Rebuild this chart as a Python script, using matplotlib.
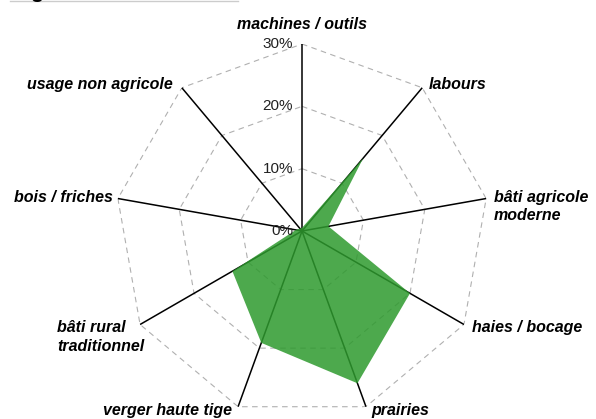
import matplotlib
matplotlib.use('Agg')
import matplotlib.pyplot as plt
import numpy as np

# categories, clockwise from the top
labels = ['machines / outils', 'labours', 'bâti agricole\nmoderne', 'haies / bocage',
          'prairies', 'verger haute tige', 'bâti rural\ntraditionnel', 'bois / friches',
          'usage non agricole']
values = [0.5, 15.3, 4.3, 20.0, 26.0, 19.1, 12.9, 1.0, 0.5]   # percent
rings = [10, 20, 30]
ring_labels = ['0%', '10%', '20%', '30%']

n = len(labels)
theta = np.arange(n) * 2 * np.pi / n
theta_closed = np.append(theta, theta[0])

plt.rcParams['font.family'] = ['Liberation Sans', 'DejaVu Sans']

fig = plt.figure(figsize=(5.96, 4.19), dpi=100)
ax = fig.add_axes([0.193, 0.0024, 0.6275, 0.8926], projection='polar')
ax.set_theta_zero_location('N')
ax.set_theta_direction(-1)
ax.set_ylim(0, 30)
ax.axis('off')

# dashed polygon rings
for r in rings:
    ax.plot(theta_closed, [r] * (n + 1), color='#b0b0b0', lw=0.8,
            ls=(0, (5, 4)), zorder=1)

# spokes
for t in theta:
    ax.plot([t, t], [0, 30], color='black', lw=1.1, zorder=2)

# data polygon
ax.fill(theta_closed, np.append(values, values[0]), color='#2e9a2e',
        alpha=0.85, lw=0, zorder=3)

# radial tick labels along the top spoke
for i, txt in enumerate(ring_labels):
    ax.annotate(txt, xy=(0, i * 10), xytext=(-9, 0), textcoords='offset pixels',
                ha='right', va='center', fontsize=11, color='#222222', zorder=4)

# label placement at the outer end of each spoke: (ha, va, dx, dy) in pixels
placement = [
    ('center', 'bottom', 0, 12),
    ('left', 'center', 6, 3),
    ('left', 'top', 8, 9),
    ('left', 'center', 8, -3),
    ('left', 'center', 5, -4),
    ('right', 'center', -6, -4),
    ('right', 'top', 4, 4),
    ('right', 'center', -5, 1),
    ('right', 'center', -9, 3),
]
for t, lab, (ha, va, dx, dy) in zip(theta, labels, placement):
    ax.annotate(lab, xy=(t, 30), xytext=(dx, dy), textcoords='offset pixels',
                ha=ha, va=va, fontsize=11.5, fontweight='bold',
                fontstyle='italic', multialignment='left', linespacing=1.3,
                annotation_clip=False)

# clipped heading at the top edge
fig.text(0.02, 1 + 3.5 / 419, 'Figure', ha='left', va='baseline', fontsize=16,
         fontweight='bold')
fig.add_artist(plt.Line2D([0.017, 0.40], [0.998, 0.998], color='#cccccc',
                          lw=1, transform=fig.transFigure))

fig.savefig('out.png', dpi=100)
